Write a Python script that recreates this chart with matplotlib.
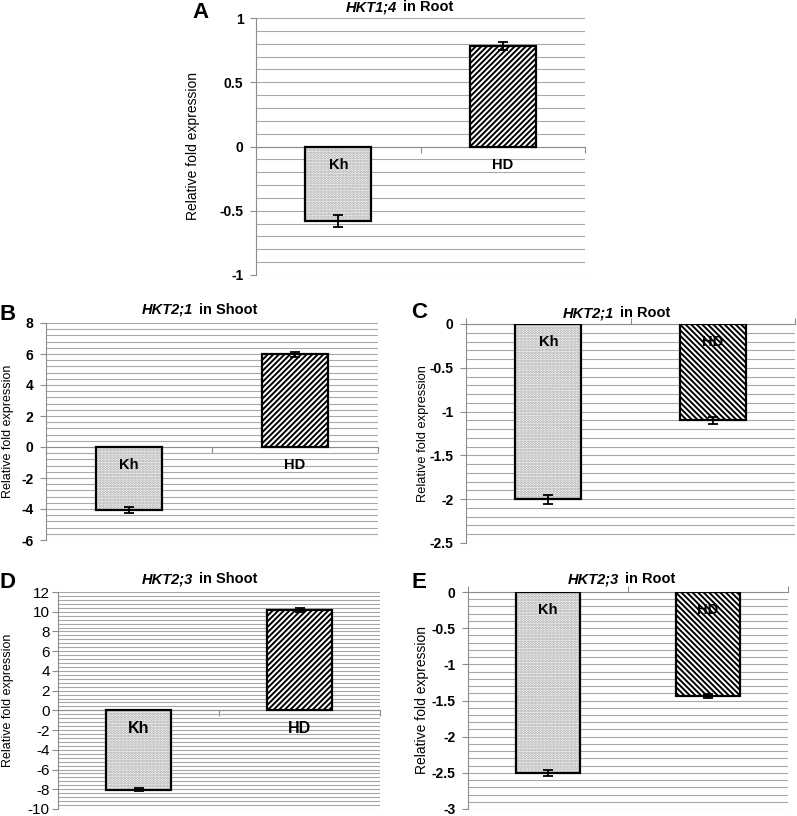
import matplotlib
matplotlib.use("Agg")
import matplotlib.pyplot as plt
from matplotlib.ticker import MultipleLocator, FuncFormatter

plt.rcParams['font.family'] = ['Liberation Sans', 'DejaVu Sans']
plt.rcParams['hatch.linewidth'] = 1.4

# data
panels = ['A', 'B', 'C', 'D', 'E']
genes = ['HKT1;4', 'HKT2;1', 'HKT2;1', 'HKT2;3', 'HKT2;3']
tissues = ['in Root', 'in Shoot', 'in Root', 'in Shoot', 'in Root']
cultivars = ['Kh', 'HD']
kh_vals = [-0.58, -4.05, -2.0, -8.05, -2.5]
kh_err = [0.05, 0.18, 0.05, 0.15, 0.04]
hd_vals = [0.78, 5.98, -1.1, 10.15, -1.44]
hd_err = [0.03, 0.18, 0.04, 0.2, 0.03]
y_limits = [(-1, 1), (-6, 8), (-2.5, 0), (-10, 12), (-3, 0)]
y_major = [0.5, 2, 0.5, 2, 0.5]

W, H = 797, 816

# axes boxes in pixels: left, top, right, bottom
boxes = [(256, 18, 585, 275), (46, 323, 378, 540), (466, 324, 795, 543),
         (58, 592, 380, 809), (468, 592, 788, 809)]
ylabel_x = [-0.170, -0.096, -0.112, -0.137, -0.122]
ylabel_size = [10, 9, 9.3, 9, 10]
# title: split point x, y ; panel letter x, y
title_pos = [(400, 7), (196, 310), (617, 313), (196, 579), (622, 579)]
letter_pos = [(200, 12), (8, 315), (419, 313), (8, 582), (419, 582)]
hd_hatch = ['//////', '//////', '\\\\\\\\\\\\', '//////', '\\\\\\\\\\\\']

GRID = '#a8a8a8'
AX = '#8c8c8c'


def px(x, y):
    return x / W, 1 - y / H


def draw_panel(fig, i):
    l, t, r, b = boxes[i]
    ax = fig.add_axes([l / W, 1 - b / H, (r - l) / W, (b - t) / H])
    x = list(range(len(cultivars)))
    vals = [kh_vals[i], hd_vals[i]]
    errs = [kh_err[i], hd_err[i]]

    ax.bar(x, vals, width=0.4, color='white', linewidth=0, zorder=2)
    # dots go under the labels, stripes go over them (as in the original)
    ax.bar(x[0], vals[0], width=0.4, facecolor='none', edgecolor='#a2a2a2',
           hatch='......', linewidth=0, zorder=2.5)
    ax.bar(x[1], vals[1], width=0.4, facecolor='none', edgecolor='black',
           hatch=hd_hatch[i], linewidth=0, zorder=4)
    ax.bar(x, vals, width=0.4, facecolor='none', edgecolor='black',
           linewidth=1.6, zorder=5)
    ax.errorbar(x, vals, yerr=errs, fmt='none', ecolor='black',
                elinewidth=1.3, capsize=3.5, capthick=1.3, zorder=6)

    lab_size = 11.5 if i == 3 else 10.5
    for j, name in enumerate(cultivars):
        ax.annotate(name, (j, 0), xytext=(0, -13), textcoords='offset points',
                    ha='center', va='center', fontweight='bold',
                    fontsize=lab_size, zorder=3)

    ax.set_xlim(-0.5, 1.5)
    ax.set_ylim(*y_limits[i])
    ax.yaxis.set_major_locator(MultipleLocator(y_major[i]))
    ax.yaxis.set_minor_locator(MultipleLocator(y_major[i] / 5))
    ax.yaxis.set_major_formatter(FuncFormatter(lambda v, p: '%g' % round(v, 2)))
    ax.set_axisbelow(True)
    ax.grid(which='both', axis='y', color=GRID, linewidth=0.8)

    for s in ['top', 'right', 'bottom']:
        ax.spines[s].set_visible(False)
    ax.spines['left'].set_color(AX)

    ax.set_xticks([-0.5, 0.5, 1.5])
    ax.set_xticklabels([])
    if y_limits[i][1] == 0:
        ax.spines['top'].set_visible(True)
        ax.spines['top'].set_color(AX)
        ax.xaxis.tick_top()
    else:
        ax.spines['bottom'].set_visible(True)
        ax.spines['bottom'].set_position(('data', 0))
        ax.spines['bottom'].set_color(AX)
    ax.tick_params(axis='x', which='both', length=4, color=AX, direction='out')
    ax.tick_params(axis='y', which='minor', length=0)

    if i == 3:
        ax.tick_params(axis='y', which='major', length=4, color=AX,
                       labelsize=11, pad=2)
    else:
        ax.tick_params(axis='y', which='major', length=4, color=AX,
                       labelsize=10, pad=5)
        for tl in ax.get_yticklabels():
            tl.set_fontweight('bold')

    ax.set_ylabel('Relative fold expression', fontsize=ylabel_size[i])
    ax.yaxis.set_label_coords(ylabel_x[i], 0.5)

    tx, ty = title_pos[i]
    fig.text(*px(tx - 3, ty), genes[i], ha='right', va='center',
             fontsize=10.5, fontweight='bold', fontstyle='italic')
    fig.text(*px(tx + 3, ty), tissues[i], ha='left', va='center',
             fontsize=10.5, fontweight='bold')
    lx, ly = letter_pos[i]
    fig.text(*px(lx, ly), panels[i], ha='center', va='center',
             fontsize=16, fontweight='bold')
    return ax


def main():
    fig = plt.figure(figsize=(W / 100, H / 100), dpi=100)
    for i in range(len(panels)):
        draw_panel(fig, i)
    fig.savefig('out.png', dpi=100)


if __name__ == "__main__":
    main()
